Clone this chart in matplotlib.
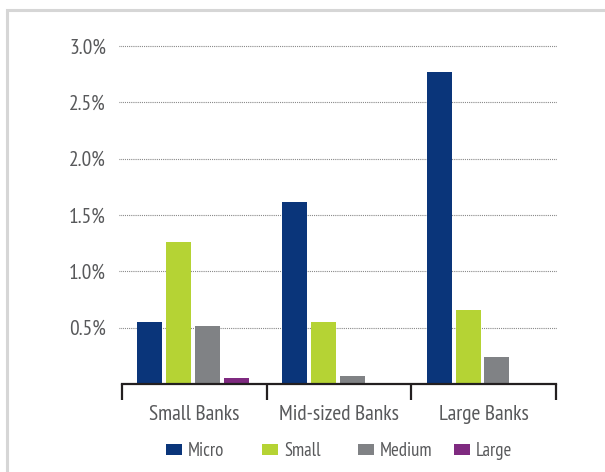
import matplotlib
matplotlib.use("Agg")
import matplotlib.pyplot as plt
from matplotlib.patches import Rectangle
import numpy as np

# Data (percent)
categories = ["Small Banks", "Mid-sized Banks", "Large Banks"]
series_names = ["Micro", "Small", "Medium", "Large"]
micro = [0.55, 1.615, 2.77]
small = [1.26, 0.55, 0.657]
medium = [0.515, 0.07, 0.24]
large = [0.053, 0.0, 0.0]
yticks = [0.5, 1.0, 1.5, 2.0, 2.5, 3.0]
ytick_labels = ["0.5%", "1.0%", "1.5%", "2.0%", "2.5%", "3.0%"]

colors = ["#0a357a", "#b5d334", "#808285", "#7f2a80"]
text_color = "#58595b"
plt.rcParams["font.family"] = ["PT Sans Narrow", "DejaVu Sans"]

W, H = 605, 472
fig = plt.figure(figsize=(W / 100, H / 100), dpi=100)
ax = fig.add_axes([122 / W, 1 - 384 / H, 434 / W, 338 / H])

x = np.arange(len(categories))
step, width = 0.2, 0.173
all_series = [micro, small, medium, large]
for i, (vals, c) in enumerate(zip(all_series, colors)):
    ax.bar(x + (i - 1.5) * step - 0.008, vals, width=width, color=c, zorder=3)

ax.set_xlim(-0.5, 2.5)
ax.set_ylim(0, 3.0)

# dotted gridlines
for v in yticks:
    ax.axhline(v, xmin=-0.007, xmax=1.002, color="#6a6a6a", lw=0.8,
               ls=(0, (0.7, 1.0)), zorder=1, clip_on=False)

ax.set_yticks(yticks)
ax.set_yticklabels(ytick_labels, color=text_color, fontsize=15.5)
ax.tick_params(axis="y", length=0, pad=11.5)

ax.set_xticks(x)
ax.set_xticklabels(categories, color=text_color, fontsize=15.5)
ax.set_xticks([-0.5, 0.5, 1.5, 2.5], minor=True)
ax.tick_params(axis="x", which="major", length=0, pad=15)
ax.tick_params(axis="x", which="minor", length=11.5, width=1.6,
               color="#231f20", direction="out")

for s in ["top", "right", "left"]:
    ax.spines[s].set_visible(False)
ax.spines["bottom"].set_color("#231f20")
ax.spines["bottom"].set_linewidth(1.6)
ax.spines["bottom"].set_zorder(4)

# legend, evenly spaced entries
legend_x = [166, 262, 358, 454]
ly = 449
for name, c, lx in zip(series_names, colors, legend_x):
    fig.add_artist(Rectangle((lx / W, 1 - (ly + 5.5) / H), 16 / W, 11 / H,
                             transform=fig.transFigure, color=c, lw=0))
    fig.text((lx + 22) / W, 1 - (ly + 1.5) / H, name, color=text_color,
             fontsize=13.5, va="center", ha="left")

# light frame around the figure
fig.add_artist(Rectangle((7 / W, -0.1), 1.2, 1.1 - 10.3 / H,
                         transform=fig.transFigure, fill=False,
                         edgecolor="#d6d6d6", lw=2.2))

fig.savefig("out.png", dpi=100, facecolor="white")
